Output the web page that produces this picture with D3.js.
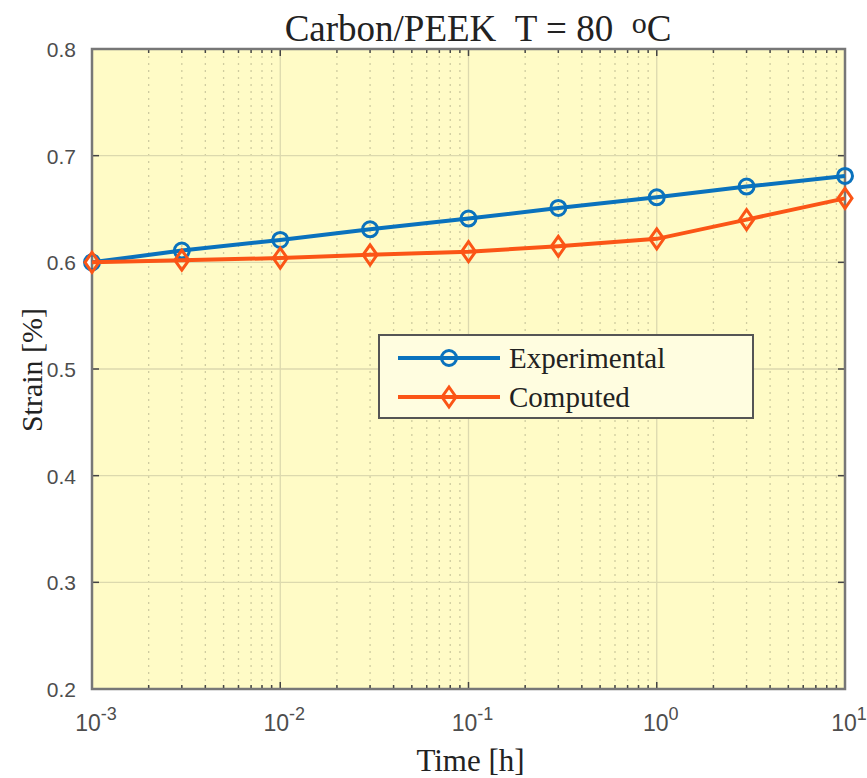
<!DOCTYPE html>
<html>
  <head>
    <meta charset="utf-8">
    <script src="https://d3js.org/d3.v7.min.js"></script>
    <style>
      body { margin: 0; background: #fff; }
      .tick-label { font-family: "Liberation Sans", Arial, sans-serif; fill: #4d4d4d; }
      .serif { font-family: "Liberation Serif", "DejaVu Serif", serif; fill: #222; }
    </style>
  </head>
<body>
<script>
  // data
  var times = [0.001, 0.003, 0.01, 0.03, 0.1, 0.3, 1, 3, 10];
  var experimental = [0.600, 0.611, 0.621, 0.631, 0.641, 0.651, 0.661, 0.671, 0.681];
  var computed = [0.600, 0.602, 0.604, 0.607, 0.610, 0.615, 0.622, 0.640, 0.660];
  var yTicks = [0.2, 0.3, 0.4, 0.5, 0.6, 0.7, 0.8];
  var xDecades = [-3, -2, -1, 0, 1];

  var W = 867, H = 778;
  var pLeft = 92, pRight = 845, pTop = 49, pBottom = 689;

  var svg = d3.select("body").append("svg")
    .attr("width", W).attr("height", H);

  var x = d3.scaleLog().domain([1e-3, 10]).range([pLeft, pRight]);
  var y = d3.scaleLinear().domain([0.2, 0.8]).range([pBottom, pTop]);

  // plot background
  svg.append("rect")
    .attr("x", pLeft).attr("y", pTop)
    .attr("width", pRight - pLeft).attr("height", pBottom - pTop)
    .attr("fill", "#fffbc6");

  // minor x grid (2..9 inside each decade)
  var minor = x.ticks().filter(function(d) {
    var m = d / Math.pow(10, Math.floor(Math.log10(d) + 1e-9));
    return Math.abs(m - Math.round(m)) < 1e-6 && Math.round(m) !== 1;
  });
  svg.append("g").selectAll("line").data(minor).enter().append("line")
    .attr("x1", function(d) { return x(d); }).attr("x2", function(d) { return x(d); })
    .attr("y1", pTop).attr("y2", pBottom)
    .attr("stroke", "#cfcca0").attr("stroke-width", 1.3)
    .attr("stroke-dasharray", "2,5");

  // major grid
  svg.append("g").selectAll("line").data(xDecades.slice(1, -1)).enter().append("line")
    .attr("x1", function(d) { return x(Math.pow(10, d)); })
    .attr("x2", function(d) { return x(Math.pow(10, d)); })
    .attr("y1", pTop).attr("y2", pBottom)
    .attr("stroke", "#dcd9ae").attr("stroke-width", 1.3);
  svg.append("g").selectAll("line").data(yTicks.slice(1, -1)).enter().append("line")
    .attr("x1", pLeft).attr("x2", pRight)
    .attr("y1", function(d) { return y(d); }).attr("y2", function(d) { return y(d); })
    .attr("stroke", "#dcd9ae").attr("stroke-width", 1.3);

  // ticks (inward, all four sides)
  var tickG = svg.append("g").attr("stroke", "#444");
  minor.forEach(function(d) {
    tickG.append("line").attr("x1", x(d)).attr("x2", x(d)).attr("y1", pBottom).attr("y2", pBottom - 4).attr("stroke-width", 1.5);
    tickG.append("line").attr("x1", x(d)).attr("x2", x(d)).attr("y1", pTop).attr("y2", pTop + 4).attr("stroke-width", 1.5);
  });
  xDecades.forEach(function(d) {
    var px = x(Math.pow(10, d));
    tickG.append("line").attr("x1", px).attr("x2", px).attr("y1", pBottom).attr("y2", pBottom - 7).attr("stroke-width", 1.5);
    tickG.append("line").attr("x1", px).attr("x2", px).attr("y1", pTop).attr("y2", pTop + 7).attr("stroke-width", 1.5);
  });
  yTicks.forEach(function(d) {
    tickG.append("line").attr("x1", pLeft).attr("x2", pLeft + 7).attr("y1", y(d)).attr("y2", y(d)).attr("stroke-width", 1.5);
    tickG.append("line").attr("x1", pRight).attr("x2", pRight - 7).attr("y1", y(d)).attr("y2", y(d)).attr("stroke-width", 1.5);
  });

  // frame
  svg.append("rect")
    .attr("x", pLeft).attr("y", pTop)
    .attr("width", pRight - pLeft).attr("height", pBottom - pTop)
    .attr("fill", "none").attr("stroke", "#777").attr("stroke-width", 2.5);

  // y tick labels
  svg.append("g").selectAll("text").data(yTicks).enter().append("text")
    .attr("class", "tick-label")
    .attr("x", pLeft - 16).attr("y", function(d) { return y(d) + 8; })
    .attr("text-anchor", "end").attr("font-size", 21)
    .text(function(d) { return d.toFixed(1); });

  // x tick labels 10^k
  xDecades.forEach(function(d) {
    var t = svg.append("text").attr("class", "tick-label")
      .attr("x", x(Math.pow(10, d)) + 4).attr("y", 731)
      .attr("text-anchor", "middle").attr("font-size", 23);
    t.append("tspan").text("10");
    t.append("tspan").attr("dy", -11).attr("font-size", 18).text(d < 0 ? "-" + (-d) : d);
  });

  // series
  var line = d3.line()
    .x(function(d, i) { return x(times[i]); })
    .y(function(d) { return y(d); });

  var blue = "#0a72bd", orange = "#fb5516";

  svg.append("path").datum(experimental).attr("d", line)
    .attr("fill", "none").attr("stroke", blue).attr("stroke-width", 4);
  svg.append("g").selectAll("circle").data(experimental).enter().append("circle")
    .attr("cx", function(d, i) { return x(times[i]); })
    .attr("cy", function(d) { return y(d); })
    .attr("r", 7.5).attr("fill", "none").attr("stroke", blue).attr("stroke-width", 3);

  svg.append("path").datum(computed).attr("d", line)
    .attr("fill", "none").attr("stroke", orange).attr("stroke-width", 4);
  var diamond = "M0,-10L7,0L0,10L-7,0Z";
  svg.append("g").selectAll("path").data(computed).enter().append("path")
    .attr("transform", function(d, i) { return "translate(" + x(times[i]) + "," + y(d) + ")"; })
    .attr("d", diamond)
    .attr("fill", "none").attr("stroke", orange).attr("stroke-width", 3);

  // legend
  var lg = svg.append("g");
  lg.append("rect").attr("x", 379).attr("y", 335).attr("width", 374).attr("height", 83)
    .attr("fill", "#fffde0").attr("stroke", "#555").attr("stroke-width", 2);
  var items = [
    {name: "Experimental", color: blue, y: 358, mark: "circle"},
    {name: "Computed", color: orange, y: 397, mark: "diamond"}
  ];
  items.forEach(function(it) {
    lg.append("line").attr("x1", 398).attr("x2", 500).attr("y1", it.y).attr("y2", it.y)
      .attr("stroke", it.color).attr("stroke-width", 4);
    if (it.mark === "circle") {
      lg.append("circle").attr("cx", 449).attr("cy", it.y).attr("r", 7.5)
        .attr("fill", "none").attr("stroke", it.color).attr("stroke-width", 3);
    } else {
      lg.append("path").attr("transform", "translate(449," + it.y + ")").attr("d", diamond)
        .attr("fill", "none").attr("stroke", it.color).attr("stroke-width", 3);
    }
    lg.append("text").attr("class", "serif").attr("x", 509).attr("y", it.y + 10)
      .attr("font-size", 29).text(it.name);
  });

  // title
  var title = svg.append("text").attr("class", "serif")
    .attr("x", 478).attr("y", 41).attr("text-anchor", "middle").attr("font-size", 37);
  title.append("tspan").text("Carbon/PEEK\u00a0\u00a0T = 80\u00a0\u00a0");
  title.append("tspan").attr("dy", -8).attr("font-size", 30).text("o");
  title.append("tspan").attr("dy", 8).text("C");

  // axis labels
  svg.append("text").attr("class", "serif")
    .attr("x", x(Math.sqrt(0.01)) + 2).attr("y", 771).attr("text-anchor", "middle")
    .attr("font-size", 31).text("Time [h]");
  svg.append("text").attr("class", "serif")
    .attr("transform", "translate(42," + 370 + ") rotate(-90)")
    .attr("text-anchor", "middle").attr("font-size", 30).text("Strain [%]");
</script>
</body>
</html>
